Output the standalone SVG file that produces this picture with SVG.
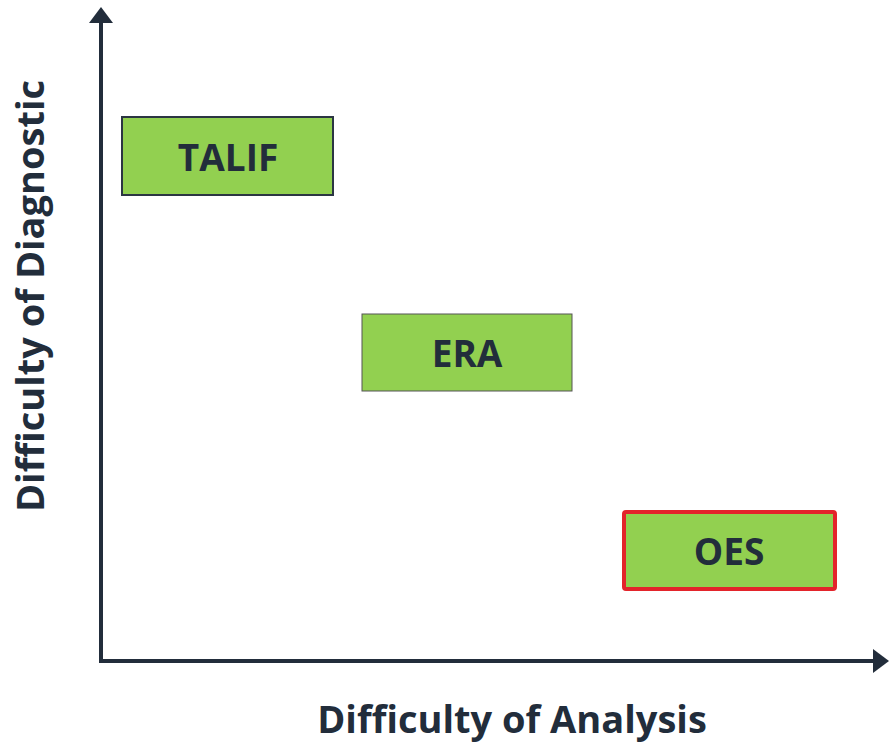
<svg xmlns="http://www.w3.org/2000/svg" width="889" height="747" viewBox="0 0 889 747">
<style>
.lbl{font-family:"Open Sans","Liberation Sans",sans-serif;font-weight:bold;fill:#222D3B;}
.box{fill:#92D050;}
.node text{font-size:37px;text-anchor:middle;}
.axis{font-size:38px;text-anchor:middle;}
</style>
<defs>
<marker id="ah" markerWidth="6" markerHeight="6" refX="1" refY="3" orient="auto" markerUnits="strokeWidth">
<path d="M0,0 L4,3 L0,6 z" fill="#222D3B"/>
</marker>
</defs>
<rect width="889" height="747" fill="#fff"/>
<g id="connectors" stroke="#222D3B" stroke-width="4" fill="none">
<path d="M101,662 L101,19" marker-end="url(#ah)"/>
<path d="M99,661 L877,661" marker-end="url(#ah)"/>
</g>
<g id="TALIF" class="node">
<rect class="box" x="122" y="117" width="211" height="78" stroke="#2B3542" stroke-width="2"/>
<text class="lbl" x="228" y="171">TALIF</text>
</g>
<g id="ERA" class="node">
<rect class="box" x="362" y="314" width="210" height="77" stroke="#555" stroke-width="1"/>
<text class="lbl" x="467" y="367">ERA</text>
</g>
<g id="OES" class="node">
<rect class="box" x="624" y="512" width="211" height="77" rx="2" stroke="#E3242B" stroke-width="4"/>
<text class="lbl" x="729" y="565">OES</text>
</g>
<text class="lbl axis" x="512" y="733">Difficulty of Analysis</text>
<text class="lbl axis" transform="translate(44,296) rotate(-90)">Difficulty of Diagnostic</text>
</svg>
